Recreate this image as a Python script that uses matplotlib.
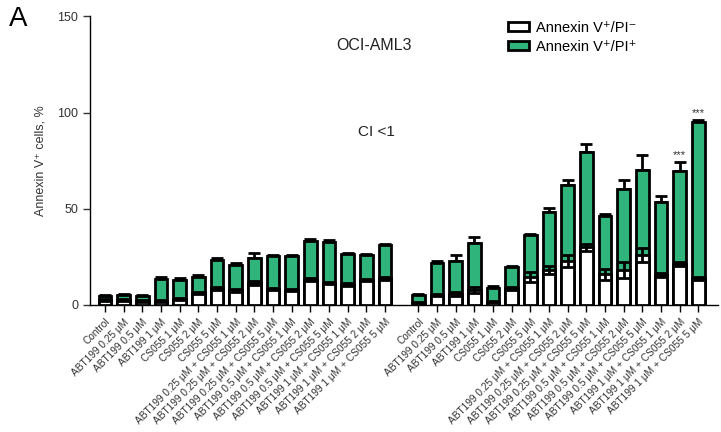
import numpy as np
import matplotlib.pyplot as plt
from matplotlib.patches import Patch

plt.rcParams['font.family'] = ['Liberation Sans', 'DejaVu Sans']

labels = ['Control', 'ABT199 0.25 μM', 'ABT199 0.5 μM', 'ABT199 1 μM',
          'CS055 1 μM', 'CS055 2 μM', 'CS055 5 μM',
          'ABT199 0.25 μM + CS055 1 μM', 'ABT199 0.25 μM + CS055 2 μM',
          'ABT199 0.25 μM + CS055 5 μM', 'ABT199 0.5 μM + CS055 1 μM',
          'ABT199 0.5 μM + CS055 2 μM', 'ABT199 0.5 μM + CS055 5 μM',
          'ABT199 1 μM + CS055 1 μM', 'ABT199 1 μM + CS055 2 μM',
          'ABT199 1 μM + CS055 5 μM']

# left group
left_total = [4.6, 5.0, 4.8, 13.3, 13.2, 14.6, 23.2, 20.8, 24.6, 25.3, 25.3, 33.5, 33.0, 26.6, 25.8, 31.0]
left_total_err = [0.8, 0.6, 0.6, 1.0, 0.8, 0.8, 1.0, 1.2, 2.2, 0.6, 0.8, 0.8, 0.8, 0.6, 0.5, 0.6]
left_neg = [2.5, 2.6, 2.0, 2.0, 3.2, 6.4, 8.6, 7.6, 11.4, 8.2, 8.0, 13.2, 11.4, 10.6, 13.0, 13.8]
left_neg_err = [0.4, 0.4, 0.4, 0.4, 0.4, 0.6, 0.6, 0.6, 1.2, 0.5, 0.5, 0.6, 0.6, 0.6, 0.6, 0.8]

# right group
right_total = [5.0, 22.0, 23.0, 32.3, 8.6, 19.6, 36.3, 48.4, 62.3, 79.6, 46.2, 60.2, 70.0, 53.3, 69.5, 95.0]
right_total_err = [0.6, 1.0, 3.2, 3.0, 1.2, 0.5, 0.6, 2.2, 2.8, 4.2, 1.2, 5.0, 7.8, 3.4, 5.0, 1.2]
right_neg = [1.2, 5.2, 5.7, 7.8, 1.8, 8.6, 14.7, 18.2, 23.0, 29.9, 15.9, 18.2, 26.0, 15.6, 21.3, 13.8]
right_neg_err = [0.5, 0.6, 0.8, 1.6, 0.5, 0.6, 2.6, 2.2, 3.2, 2.0, 3.0, 4.0, 3.4, 1.2, 1.0, 0.8]

stars = {14: '***', 15: '***'}

green = '#2fb57b'
fig = plt.figure(figsize=(7.21, 4.32), dpi=100)
ax = fig.add_axes([0.1248, 0.294, 0.871, 0.668])

xl = np.arange(len(labels))
xr = np.arange(len(labels)) + 16.8
w = 0.68

for x, tot, terr, neg, nerr in [(xl, left_total, left_total_err, left_neg, left_neg_err),
                                (xr, right_total, right_total_err, right_neg, right_neg_err)]:
    ax.errorbar(x, tot, yerr=[np.zeros(len(tot)), terr], fmt='none', ecolor='black',
                elinewidth=2, capsize=4, capthick=2, zorder=1)
    ax.bar(x, tot, width=w, color=green, edgecolor='black', linewidth=2, zorder=2)
    ax.bar(x, neg, width=w, color='white', edgecolor='black', linewidth=2, zorder=3)
    ax.errorbar(x, neg, yerr=nerr, fmt='none', ecolor='black',
                elinewidth=2, capsize=4, capthick=2, zorder=4)

for i, s in stars.items():
    ax.text(xr[i], right_total[i] + right_total_err[i] + 1.0, s, ha='center', va='bottom',
            fontsize=8, color='#333333')

ax.set_xlim(-0.8, 32.85)
ax.set_ylim(0, 150)
ax.set_yticks([0, 50, 100, 150])
ax.set_xticks(np.concatenate([xl, xr]))
ax.set_xticklabels(labels + labels, rotation=45, ha='right', rotation_mode='anchor',
                   fontsize=7.3, color='#333333')
ax.tick_params(axis='y', labelsize=9, colors='#333333', length=5, width=1)
ax.tick_params(axis='x', length=5, width=1)
for sp in ['top', 'right']:
    ax.spines[sp].set_visible(False)
ax.spines['left'].set_linewidth(1)
ax.spines['bottom'].set_linewidth(1)
ax.set_ylabel('Annexin V⁺ cells, %', fontsize=9, color='#333333', labelpad=8)

ax.text(0.452, 0.90, 'OCI-AML3', transform=ax.transAxes, ha='center', va='center',
        fontsize=11.5, color='#222222')
ax.text(0.456, 0.60, 'CI <1', transform=ax.transAxes, ha='center', va='center',
        fontsize=11, color='#222222')
fig.text(0.012, 0.957, 'A', fontsize=20, ha='left', va='center')

handles = [Patch(facecolor='white', edgecolor='black', linewidth=2, label='Annexin V⁺/PI⁻'),
           Patch(facecolor=green, edgecolor='black', linewidth=2, label='Annexin V⁺/PI⁺')]
ax.legend(handles=handles, loc='upper left', bbox_to_anchor=(0.645, 1.03), frameon=False,
          fontsize=10.5, handlelength=1.4, handleheight=0.6, handletextpad=0.5, labelspacing=0.35)

fig.savefig('out.png', dpi=100)
